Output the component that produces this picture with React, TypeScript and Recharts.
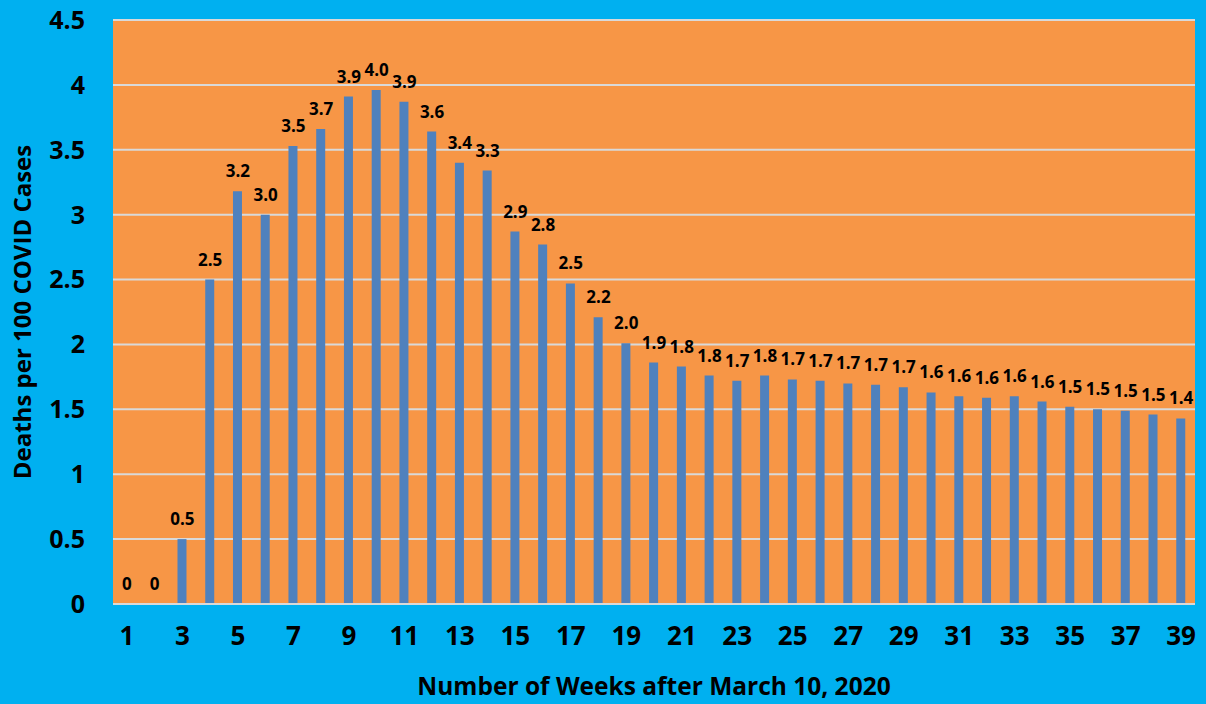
import { ComposedChart, Bar, Line, XAxis, YAxis, CartesianGrid, LabelList, Label } from "recharts";

const weeks = Array.from({ length: 39 }, (_, i) => String(i + 1));

const deathsPer100 = [
  0, 0, 0.5, 2.5, 3.18, 3.0, 3.53, 3.66, 3.91, 3.96,
  3.87, 3.64, 3.4, 3.34, 2.87, 2.77, 2.47, 2.21, 2.01, 1.86,
  1.83, 1.76, 1.72, 1.76, 1.73, 1.72, 1.7, 1.69, 1.67, 1.63,
  1.6, 1.59, 1.6, 1.56, 1.52, 1.5, 1.49, 1.46, 1.43,
];

const yTicks = [0, 0.5, 1, 1.5, 2, 2.5, 3, 3.5, 4, 4.5];

const data = weeks.map((w, i) => ({ week: w, value: deathsPer100[i] }));

const font = "'Open Sans', sans-serif";

// labels ride on an invisible line so the zero weeks still get their "0"
export default function App() {
  return (
    <div style={{ width: 1206, height: 704, background: "#00B0F0" }}>
      <style>{"body{margin:0}"}</style>
      <ComposedChart
        width={1206}
        height={704}
        data={data}
        margin={{ top: 20, right: 11, left: 0, bottom: 0 }}
        style={{ fontFamily: font }}
      >
        <CartesianGrid vertical={false} stroke="#D9D9D9" strokeWidth={2} fill="#F79646" fillOpacity={1} />
        <XAxis
          dataKey="week"
          interval={1}
          height={100}
          tickLine={false}
          tickSize={0}
          tickMargin={23}
          axisLine={{ stroke: "#D9D9D9", strokeWidth: 2 }}
          tick={{ fill: "#000", fontSize: 26, fontWeight: 700 }}
        >
          <Label
            value="Number of Weeks after March 10, 2020"
            position="insideBottom"
            offset={9}
            style={{ fill: "#000", fontSize: 24.5, fontWeight: 700 }}
          />
        </XAxis>
        <YAxis
          width={113}
          domain={[0, 4.5]}
          ticks={yTicks}
          axisLine={false}
          tickLine={false}
          tickSize={0}
          tickMargin={28}
          tick={{ fill: "#000", fontSize: 25, fontWeight: 700 }}
        >
          <Label
            value="Deaths per 100 COVID Cases"
            angle={-90}
            position="insideLeft"
            offset={22}
            style={{ textAnchor: "middle", fill: "#000", fontSize: 24, fontWeight: 700 }}
          />
        </YAxis>
        <Bar dataKey="value" fill="#4F81BD" barSize={9} isAnimationActive={false} />
        <Line dataKey="value" stroke="none" dot={false} activeDot={false} isAnimationActive={false}>
          <LabelList
            dataKey="value"
            position="top"
            offset={14}
            formatter={(v: any) => (v === 0 ? "0" : Number(v).toFixed(1))}
            style={{ fill: "#000", fontSize: 17, fontWeight: 700 }}
          />
        </Line>
      </ComposedChart>
    </div>
  );
}
